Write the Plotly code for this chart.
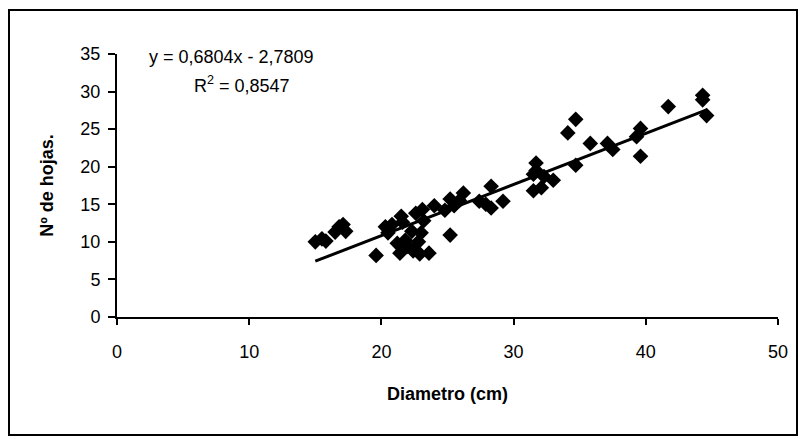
import numpy as np
import plotly.graph_objects as go

# Data
diametro = [15.0, 15.5, 15.8, 16.5, 16.8, 17.1, 17.3, 19.6, 20.3, 20.5, 20.8, 21.2, 21.4, 21.5,
            21.6, 21.8, 22.0, 22.3, 22.4, 22.6, 22.8, 22.9, 23.0, 23.1, 23.2, 23.6, 24.0, 24.8,
            25.2, 25.2, 25.5, 25.9, 26.2, 27.4, 27.9, 28.3, 28.3, 29.2, 31.5, 31.7, 31.7, 31.5,
            32.1, 32.3, 33.0, 34.1, 34.7, 34.7, 35.8, 37.1, 37.5, 39.3, 39.6, 39.6, 41.7, 44.3,
            44.3, 44.6]
hojas = [10.0, 10.4, 10.1, 11.3, 12.0, 12.3, 11.4, 8.2, 12.0, 11.2, 12.3, 9.8, 8.5, 13.4,
         12.6, 10.2, 9.4, 11.4, 8.8, 13.8, 10.0, 8.4, 11.2, 14.3, 12.8, 8.5, 14.8, 14.2,
         15.7, 10.9, 14.8, 15.5, 16.5, 15.4, 15.0, 17.4, 14.5, 15.4, 16.8, 20.5, 19.5, 19.0,
         17.2, 18.7, 18.2, 24.5, 26.3, 20.2, 23.1, 23.1, 22.3, 24.0, 25.1, 21.4, 28.0, 29.5,
         28.9, 26.8]
slope = 0.6804
intercept = -2.7809
x_ticks = [0, 10, 20, 30, 40, 50]
y_ticks = [0, 5, 10, 15, 20, 25, 30, 35]

trend_x = np.array([min(diametro), max(diametro)])
trend_y = slope * trend_x + intercept

FONT = "Liberation Sans, Arial, sans-serif"

fig = go.Figure()
fig.add_trace(go.Scatter(
    x=trend_x, y=trend_y, mode="lines",
    line=dict(color="black", width=3), showlegend=False, hoverinfo="skip"))
fig.add_trace(go.Scatter(
    x=diametro, y=hojas, mode="markers",
    marker=dict(symbol="diamond", size=12, color="black", line=dict(width=0)),
    showlegend=False))

L, R, T, B = 117, 22, 54, 122
W, H = 800, 439
pw, ph = W - L - R, H - T - B

def px_to_paper_x(px):
    return (px - L) / pw

def px_to_paper_y(py):
    return (H - B - py) / ph

fig.update_layout(
    width=W, height=H,
    margin=dict(l=L, r=R, t=T, b=B),
    paper_bgcolor="white", plot_bgcolor="white",
    font=dict(family=FONT, color="black", size=18),
    xaxis=dict(
        range=[0, 50], tickvals=x_ticks, showgrid=False, zeroline=False,
        showline=True, linecolor="black", linewidth=2,
        ticks="outside", ticklen=6, tickwidth=2, tickcolor="black",
        tickfont=dict(size=18, family=FONT), ticklabelstandoff=11,
        title=dict(text="<b>Diametro (cm)</b>", font=dict(size=18, family=FONT), standoff=27),
    ),
    yaxis=dict(
        range=[0, 35], tickvals=y_ticks, showgrid=False, zeroline=False,
        showline=True, linecolor="black", linewidth=2,
        ticks="outside", ticklen=7, tickwidth=2, tickcolor="black",
        tickfont=dict(size=18, family=FONT), ticklabelstandoff=4,
        title=dict(text="<b>Nº de hojas.</b>", font=dict(size=18, family=FONT), standoff=22),
    ),
    annotations=[
        dict(text="y = 0,6804x - 2,7809", xref="x", yref="y", x=2.3, y=34.6,
             xanchor="left", yanchor="middle", showarrow=False,
             font=dict(size=18, family=FONT)),
        dict(text="R<sup>2</sup> = 0,8547", xref="x", yref="y", x=5.7, y=31.0,
             xanchor="left", yanchor="middle", showarrow=False,
             font=dict(size=18, family=FONT)),
    ],
    shapes=[
        dict(type="rect", xref="paper", yref="paper",
             x0=px_to_paper_x(9), x1=px_to_paper_x(797),
             y0=px_to_paper_y(435), y1=px_to_paper_y(10),
             line=dict(color="black", width=2), fillcolor="rgba(0,0,0,0)", layer="below"),
    ],
)

fig.write_html(
    "out.html",
    config={"displayModeBar": False},
    post_script="document.body.style.margin='0';document.body.style.overflow='hidden';",
)
